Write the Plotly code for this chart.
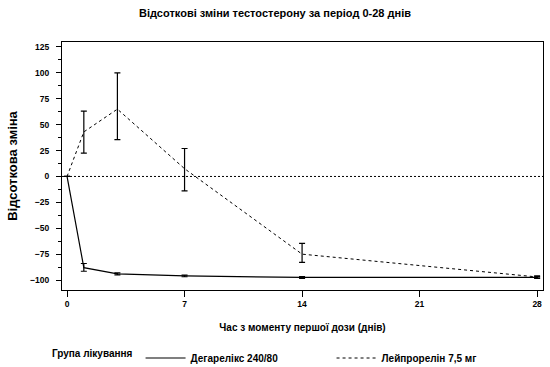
import plotly.graph_objects as go

days = [0, 1, 3, 7, 14, 28]
deg_mean = [0, -88, -94, -96, -97.5, -97.5]
deg_err_plus = [0, 4, 1, 0.8, 0.8, 0.8]
deg_err_minus = [0, 3.5, 1, 0.8, 0.8, 0.8]
leu_mean = [0, 43, 65, 7.5, -75, -97]
leu_err_plus = [0, 20, 35, 19.5, 10.5, 1]
leu_err_minus = [0, 20.5, 29.5, 21.5, 8, 1]

x_ticks = [0, 7, 14, 21, 28]
y_ticks = [-100, -75, -50, -25, 0, 25, 50, 75, 100, 125]

title_text = "Відсоткові зміни тестостерону за період 0-28 днів"
x_title = "Час з моменту першої дози (днів)"
y_title = "Відсоткова зміна"
legend_title = "Група лікування"
names = ["Дегарелікс 240/80", "Лейпрорелін 7,5 мг"]

FONT = "Liberation Sans"

fig = go.Figure()
fig.add_trace(go.Scatter(
    x=days, y=deg_mean, name="<b>" + names[0] + "</b>", mode="lines",
    line=dict(color="black", width=1.2, dash="solid"),
    error_y=dict(type="data", array=deg_err_plus, arrayminus=deg_err_minus,
                 color="black", thickness=1.2, width=3),
))
fig.add_trace(go.Scatter(
    x=days, y=leu_mean, name="<b>" + names[1] + "</b>", mode="lines",
    line=dict(color="black", width=1, dash="3px,3px"),
    error_y=dict(type="data", array=leu_err_plus, arrayminus=leu_err_minus,
                 color="black", thickness=1.2, width=3),
))

fig.add_shape(type="line", xref="paper", x0=0, x1=1, yref="y", y0=0, y1=0,
              line=dict(color="black", width=1, dash="2px,2px"), layer="below")

fig.update_layout(
    width=550, height=367,
    margin=dict(l=62, r=7, t=42, b=77, autoexpand=False),
    paper_bgcolor="white", plot_bgcolor="white",
    font=dict(family=FONT, size=8.5, color="black"),
    title=dict(text="<b>" + title_text + "</b>", x=0.5, xanchor="center",
               xref="container", yref="container",
               y=1 - 13 / 367, yanchor="middle",
               font=dict(family=FONT, size=11, color="black")),
    showlegend=True,
    legend=dict(orientation="h", xref="container", yref="container",
                x=50 / 550, xanchor="left", y=1 - 358 / 367, yanchor="middle",
                title=dict(text="<b>" + legend_title + "</b>", side="left",
                           font=dict(family=FONT, size=10)),
                font=dict(family=FONT, size=10, color="black"),
                itemwidth=40, entrywidth=136, entrywidthmode="pixels",
                traceorder="normal"),
    xaxis=dict(range=[-0.3, 28.35], tickvals=x_ticks,
               ticktext=["<b>%d</b>" % v for v in x_ticks],
               automargin=False,
               showgrid=False, zeroline=False, showline=True, linecolor="black",
               linewidth=1, mirror=True, ticks="outside", ticklen=6,
               tickcolor="black",
               title=dict(text="<b>" + x_title + "</b>", standoff=15,
                          font=dict(family=FONT, size=10))),
    yaxis=dict(range=[-109.6, 129.8], tickvals=y_ticks,
               ticktext=["<b>%s</b>" % (str(v).replace("-", "−")) for v in y_ticks],
               automargin=False,
               showgrid=False, zeroline=False, showline=True, linecolor="black",
               linewidth=1, mirror=True, ticks="outside", ticklen=5,
               tickcolor="black", ticklabelstandoff=5,
               minor=dict(dtick=12.5, tick0=0, ticks="outside", ticklen=3,
                          tickcolor="black", showgrid=False),
               title=dict(text="<b>" + y_title + "</b>", standoff=9,
                          font=dict(family=FONT, size=13))),
)

fig.write_html("out.html",
               config={"displayModeBar": False},
               post_script="document.body.style.margin='0';document.body.style.overflow='hidden';")
